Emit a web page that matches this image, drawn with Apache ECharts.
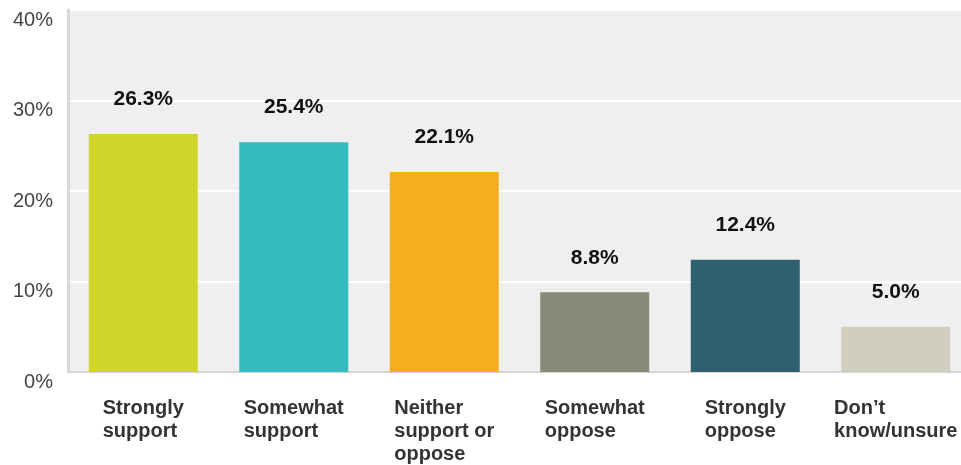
<!DOCTYPE html>
<html><head><meta charset="utf-8">
<script src="https://cdn.jsdelivr.net/npm/echarts@6/dist/echarts.min.js"></script>
<style>html,body{margin:0;padding:0;background:#fff}#c{width:961px;height:465px}</style>
</head><body><div id="c"></div>
<script>
const categories = ["Strongly\nsupport", "Somewhat\nsupport", "Neither\nsupport or\noppose", "Somewhat\noppose", "Strongly\noppose", "Don\u2019t\nknow/unsure"];
const values = [26.3, 25.4, 22.1, 8.8, 12.4, 5.0];
const colors = ["#D0D52A", "#33BDBE", "#F6AE1F", "#8A8A78", "#2E6170", "#D0CEBF"];
const yTicks = [0, 10, 20, 30, 40];

const chart = echarts.init(document.getElementById('c'), null, {renderer: 'canvas'});
chart.setOption({
  animation: false,
  backgroundColor: '#fff',
  grid: {left: 68, width: 903, top: 10, height: 362, show: true, backgroundColor: '#efefef', borderWidth: 0, containLabel: false, outerBoundsMode: 'none'},
  xAxis: {
    type: 'category', data: categories,
    axisLine: {show: true, lineStyle: {color: '#d4d4d4', width: 2}},
    axisTick: {show: false},
    axisLabel: {
      interval: 0, margin: 25,
      formatter: v => v.split('\n').map(l => '{a|' + l + '}').join('\n'),
      rich: {a: {align: 'left', fontFamily: 'Liberation Sans, Arial, sans-serif', fontWeight: 'bold', fontSize: 20, color: '#333', lineHeight: 23}}
    }
  },
  yAxis: {
    type: 'value', min: 0, max: 40, interval: 10,
    axisLine: {show: true, lineStyle: {color: '#d8d8d8', width: 3}},
    axisTick: {show: false},
    splitLine: {show: true, lineStyle: {color: '#ffffff', width: 2}},
    axisLabel: {
      formatter: v => yTicks.includes(v) ? v + '%' : '',
      fontFamily: 'Liberation Sans, Arial, sans-serif', fontSize: 20, color: '#444',
      margin: 15, verticalAlign: 'top', padding: [0, 0, 0, 0]
    }
  },
  series: [{
    type: 'bar', barWidth: 109,
    data: values.map((v, i) => ({value: v, itemStyle: {color: colors[i]}})),
    label: {
      show: true, position: 'top', distance: 24,
      formatter: p => p.value.toFixed(1) + '%',
      fontFamily: 'Liberation Sans, Arial, sans-serif', fontWeight: 'bold', fontSize: 21, color: '#111'
    }
  }]
});
</script></body></html>
